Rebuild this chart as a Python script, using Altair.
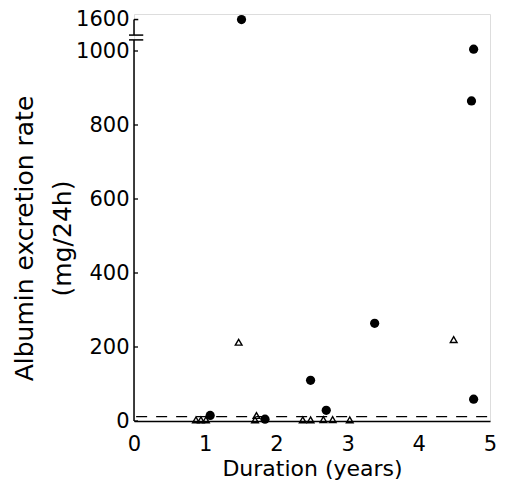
import altair as alt
import pandas as pd

# Filled circles
circ_x = [1.51, 4.77, 4.74, 4.77, 3.38, 2.48, 1.07, 1.84, 2.70]
circ_y = [1600, 1005, 865, 59, 264, 110, 15, 5, 29]
# Open triangles
tri_x = [1.47, 4.49, 0.87, 0.94, 1.01, 1.72, 1.70, 2.37, 2.48, 2.66, 2.79, 3.03]
tri_y = [213, 220, 3, 3, 3, 15, 3, 3, 3, 4, 4, 3]

y_ticks = [0, 200, 400, 600, 800, 1000, 1600]
x_ticks = [0, 1, 2, 3, 4, 5]
ref_level = 12

# break geometry (display units): values above the break are drawn near the top
BREAK_POS = 1085  # where 1600 is drawn
calc = f"datum.v < 1500 ? datum.v : {BREAK_POS} + (datum.v - 1600) * 0.1"

FONT = "DejaVu Sans"
W, H = 356, 407
xs = alt.Scale(domain=[0, 5], nice=False)
ys = alt.Scale(domain=[0, 1100], nice=False)

pts = pd.DataFrame({
    "x": circ_x + tri_x,
    "v": circ_y + tri_y,
    "kind": ["circle"] * len(circ_x) + ["triangle"] * len(tri_x),
})

base = alt.Chart(pts).transform_calculate(d=calc)

xaxis = alt.Axis(values=x_ticks, format="d", grid=False, ticks=False,
                 domainColor="black", domainWidth=1.5, labelFlush=False,
                 labelFontSize=21, labelFont=FONT, labelColor="black",
                 labelPadding=12, title="Duration (years)",
                 titleFontSize=22, titleFont=FONT, titleFontWeight="normal",
                 titleColor="black", titlePadding=4)
yaxis = alt.Axis(values=[0, 200, 400, 600, 800, 1000, BREAK_POS],
                 labelExpr=f"datum.value > 1050 ? '1600' : format(datum.value, 'd')",
                 grid=False, ticks=False, tickSize=0, domain=False,
                 labelFontSize=21, labelFont=FONT, labelColor="black",
                 labelPadding=5, labelFlush=False,
                 title=["Albumin excretion rate", "(mg/24h)"],
                 titleFontSize=25, titleFont=FONT, titleFontWeight="normal",
                 titleColor="black", titleAngle=270, titleAlign="center",
                 titleBaseline="top", titleLineHeight=38,
                 titleX=-122, titleY=224)

circles = base.transform_filter("datum.kind == 'circle'").mark_point(
    shape="circle", filled=True, color="black", size=85, opacity=1
).encode(x=alt.X("x:Q", scale=xs, axis=xaxis),
         y=alt.Y("d:Q", scale=ys, axis=yaxis))

tris = base.transform_filter("datum.kind == 'triangle'").mark_point(
    shape="triangle-up", filled=False, color="black", size=45, strokeWidth=1.4, opacity=1
).encode(x=alt.X("x:Q", scale=xs), y=alt.Y("d:Q", scale=ys))

# dashed reference line
ref = alt.Chart(pd.DataFrame({"x": [0.03], "x2": [5.0], "v": [ref_level]})).mark_rule(
    color="black", strokeDash=[11, 9], strokeWidth=1.2
).encode(x=alt.X("x:Q", scale=xs), x2="x2:Q", y=alt.Y("v:Q", scale=ys))

# y-axis line with break
seg = pd.DataFrame({
    "x": [0, 0, -0.07, -0.07, 0, 0],
    "x2": [0, 0, 0.13, 0.13, 0, 0.06],
    "y": [0, 1043, 1030, 1043, 1085, 1085],
    "y2": [1030, 1085, 1030, 1043, 1085, 1085],
})
axis_line = alt.Chart(seg).mark_rule(color="black", strokeWidth=1.5).encode(
    x=alt.X("x:Q", scale=xs), x2="x2:Q",
    y=alt.Y("y:Q", scale=ys), y2="y2:Q")

# inward ticks
tk = pd.DataFrame({"v": y_ticks[:-1]})
ticks = alt.Chart(tk).mark_rule(color="black", strokeWidth=1.3).encode(
    x=alt.value(0), x2=alt.value(4), y=alt.Y("v:Q", scale=ys))

chart = alt.layer(ref, axis_line, ticks, tris, circles).properties(
    width=W, height=H,
    autosize=alt.AutoSizeParams(type="none"),
    padding={"left": 126, "top": 6, "right": 8, "bottom": 59},
).configure_view(stroke=None).configure(background="white")

chart.save("out.html", embed_options={"renderer": "svg", "actions": False})
